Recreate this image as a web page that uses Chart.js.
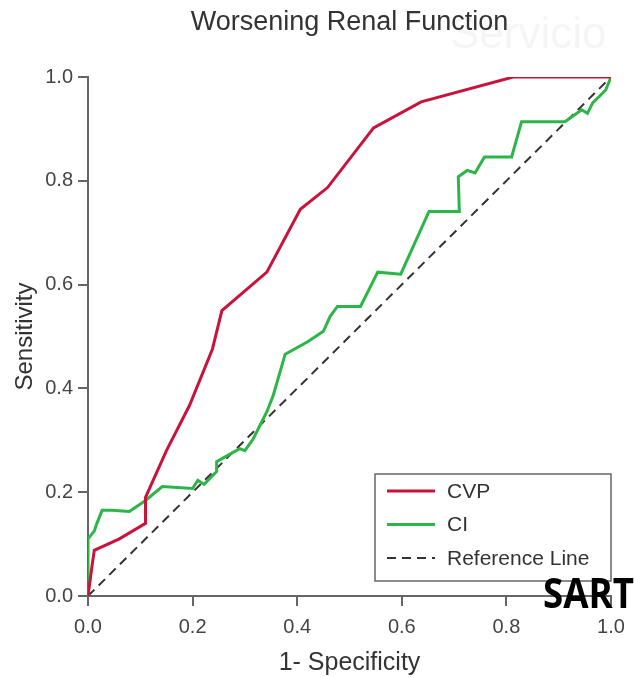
<!DOCTYPE html>
<html>
<head>
<meta charset="utf-8">
<script src="https://cdn.jsdelivr.net/npm/chart.js@4/dist/chart.umd.min.js"></script>
<style>
  html, body { margin: 0; padding: 0; background: #fff; }
  #wrap { width: 634px; height: 678px; position: relative; }
</style>
</head>
<body>
<div id="wrap"><canvas id="roc-chart" width="634" height="678"></canvas></div>
<script>
// ROC curve values
const cvpX = [0, 0.008, 0.012, 0.06, 0.11, 0.11, 0.15, 0.194, 0.238, 0.256, 0.342, 0.406, 0.458, 0.546, 0.637, 0.813, 1.0];
const cvpY = [0, 0.06, 0.088, 0.11, 0.14, 0.19, 0.28, 0.367, 0.476, 0.55, 0.624, 0.745, 0.787, 0.902, 0.952, 1.0, 1.0];

const ciX = [0, 0, 0.012, 0.017, 0.027, 0.046, 0.079, 0.11, 0.142, 0.2, 0.21, 0.222, 0.246, 0.246, 0.29, 0.3, 0.316, 0.342, 0.354, 0.377, 0.42, 0.435, 0.45, 0.463, 0.477, 0.521, 0.554, 0.598, 0.652, 0.71, 0.708, 0.725, 0.74, 0.758, 0.81, 0.829, 0.912, 0.944, 0.955, 0.965, 0.977, 0.99, 1.0];
const ciY = [0, 0.11, 0.125, 0.14, 0.165, 0.165, 0.163, 0.184, 0.211, 0.207, 0.223, 0.215, 0.24, 0.259, 0.284, 0.28, 0.303, 0.355, 0.386, 0.466, 0.49, 0.5, 0.51, 0.539, 0.558, 0.558, 0.624, 0.62, 0.741, 0.741, 0.808, 0.82, 0.815, 0.846, 0.846, 0.914, 0.914, 0.937, 0.93, 0.95, 0.962, 0.975, 1.0];

const refX = [0, 1];
const refY = [0, 1];

const seriesLabels = ["CVP", "CI", "Reference Line"];
const tickValues = [0, 0.2, 0.4, 0.6, 0.8, 1.0];

const FONT = "'Liberation Sans', Arial, sans-serif";
const toPoints = (xs, ys) => xs.map((x, i) => ({ x: x, y: ys[i] }));

const legendBox = {
  id: "legendBox",
  afterDraw(chart) {
    const ctx = chart.ctx;
    const a = chart.chartArea;
    const left = a.right - 236, top = a.bottom - 122, w = 236, h = 107;
    ctx.save();
    ctx.fillStyle = "#fff";
    ctx.fillRect(left, top, w, h);
    ctx.strokeStyle = "#666";
    ctx.lineWidth = 1.5;
    ctx.strokeRect(left, top, w, h);
    ctx.font = "21px " + FONT;
    ctx.textBaseline = "middle";
    chart.data.datasets.forEach((ds, i) => {
      const y = top + 17 + i * 33.5;
      ctx.beginPath();
      ctx.strokeStyle = ds.borderColor;
      ctx.lineWidth = ds.borderWidth;
      ctx.setLineDash(ds.borderDash || []);
      ctx.moveTo(left + 12, y);
      ctx.lineTo(left + 60, y);
      ctx.stroke();
      ctx.setLineDash([]);
      ctx.fillStyle = "#333";
      ctx.fillText(ds.label, left + 72, y + 1);
    });
    // watermark texts
    ctx.fillStyle = "#000";
    ctx.font = "bold 42px 'Open Sans', 'Liberation Sans', sans-serif";
    ctx.textBaseline = "alphabetic";
    ctx.fillText("SART", 543, 608, 91);
    ctx.fillStyle = "rgba(0,0,0,0.04)";
    ctx.font = "44px " + FONT;
    ctx.fillText("Servicio", 450, 48);
    ctx.restore();
  }
};

new Chart(document.getElementById("roc-chart"), {
  type: "line",
  data: {
    datasets: [{
        data: toPoints(cvpX, cvpY),
        label: seriesLabels[0],
        borderColor: "#c8133a",
        borderWidth: 3,
        pointRadius: 0,
        fill: false
      }, {
        data: toPoints(ciX, ciY),
        label: seriesLabels[1],
        borderColor: "#2cb648",
        borderWidth: 3,
        pointRadius: 0,
        fill: false
      }, {
        data: toPoints(refX, refY),
        label: seriesLabels[2],
        borderColor: "#333",
        borderWidth: 2,
        borderDash: [9, 6],
        pointRadius: 0,
        fill: false
      }
    ]
  },
  options: {
    responsive: false,
    animation: false,
    layout: { padding: { left: 0, right: 23, top: 0, bottom: 0 } },
    plugins: {
      legend: { display: false },
      tooltip: { enabled: false },
      title: {
        display: true,
        text: "Worsening Renal Function",
        fullSize: false,
        color: "#333",
        font: { family: FONT, size: 27, weight: "normal" },
        padding: { top: 6, bottom: 38.6 }
      }
    },
    scales: {
      x: {
        type: "linear",
        min: 0, max: 1,
        afterBuildTicks: (s) => { s.ticks = tickValues.map(v => ({ value: v })); },
        afterFit: (s) => { s.height = 82; },
        ticks: {
          color: "#444",
          padding: 9,
          maxRotation: 0,
          font: { family: FONT, size: 20 },
          callback: (v) => Number(v).toFixed(1)
        },
        grid: { drawOnChartArea: false, drawTicks: true, tickLength: 10, color: "#666", lineWidth: 2 },
        border: { display: true, color: "#666", width: 2 },
        title: {
          display: true, text: "1- Specificity", color: "#333",
          font: { family: FONT, size: 25 },
          padding: { top: 0, bottom: 0 }
        }
      },
      y: {
        type: "linear",
        min: 0, max: 1,
        afterBuildTicks: (s) => { s.ticks = tickValues.map(v => ({ value: v })); },
        afterFit: (s) => { s.width = 88; },
        ticks: {
          color: "#444",
          padding: 5,
          font: { family: FONT, size: 20 },
          callback: (v) => Number(v).toFixed(1)
        },
        grid: { drawOnChartArea: false, drawTicks: true, tickLength: 10, color: "#666", lineWidth: 2 },
        border: { display: true, color: "#666", width: 2 },
        title: {
          display: true, text: "Sensitivity", color: "#333",
          font: { family: FONT, size: 24 },
          padding: { top: 11, bottom: 0 }
        }
      }
    }
  },
  plugins: [legendBox]
});
</script>
</body>
</html>
